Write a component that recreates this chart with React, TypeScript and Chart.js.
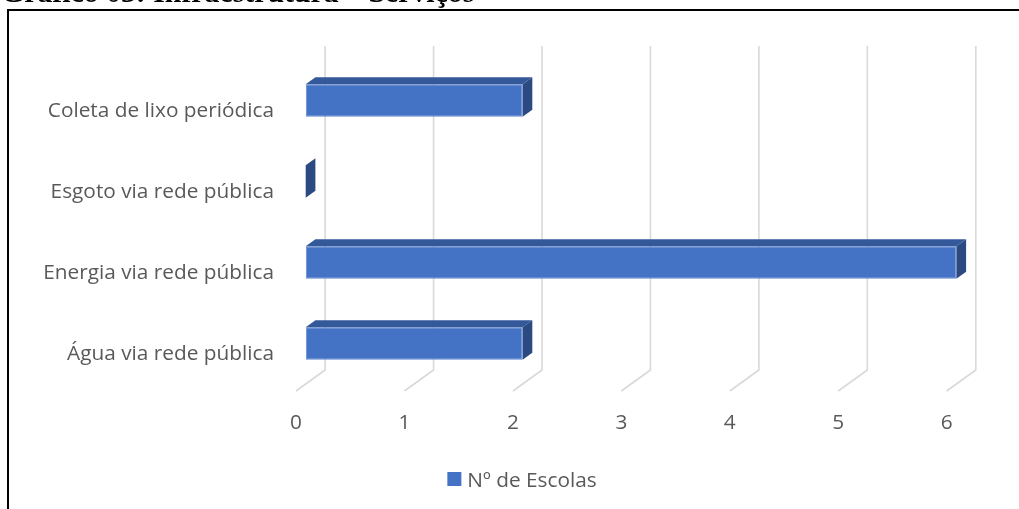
import React, { useEffect, useRef } from "react";
import { Chart, registerables } from "chart.js";

Chart.register(...registerables);

// ---- data ----
const categories = [
  "Coleta de lixo periódica",
  "Esgoto via rede pública",
  "Energia via rede pública",
  "Água via rede pública",
];
const escolas = [2, 0, 6, 2];
const xTicks = [0, 1, 2, 3, 4, 5, 6];
const seriesLabel = "Nº de Escolas";
const captionText = "Gráfico 03: Infraestrutura – Serviços";

// ---- styles ----
const FRONT = "#4472C4";
const FRONT_EDGE = "#5E88D2";
const TOP_FACE = "#34599B";
const SIDE_FACE = "#2B4A82";
const GRID = "#D9D9D9";
const TEXT = "#595959";
const FONT = "'Open Sans', 'Noto Sans', sans-serif";
const FONT_SIZE = 20.8;

// depth of a bar (front face -> back face); the floor is three bar depths deep
const DX = 9.7;
const DY = -7;

const threeD = {
  id: "threeD",
  beforeDatasetsDraw(chart: any) {
    const { ctx, chartArea, scales } = chart;
    const xs = scales.x;
    const backTop = chartArea.top + 2 * DY;
    const backBottom = chartArea.bottom + 2 * DY;
    ctx.save();
    ctx.strokeStyle = GRID;
    ctx.lineWidth = 1.6;
    xTicks.forEach((v) => {
      const px = xs.getPixelForValue(v);
      ctx.beginPath();
      ctx.moveTo(px + 2 * DX, backTop);
      ctx.lineTo(px + 2 * DX, backBottom);
      ctx.lineTo(px - DX, backBottom - 3 * DY);
      ctx.stroke();
    });
    ctx.restore();
  },
  afterDatasetsDraw(chart: any) {
    const { ctx } = chart;
    const meta = chart.getDatasetMeta(0);
    ctx.save();
    meta.data.forEach((bar: any) => {
      const { x, y, base, height } = bar.getProps(["x", "y", "base", "height"], true);
      const top = y - height / 2;
      const bottom = y + height / 2;
      // top face
      ctx.fillStyle = TOP_FACE;
      ctx.beginPath();
      ctx.moveTo(base, top);
      ctx.lineTo(x, top);
      ctx.lineTo(x + DX, top + DY);
      ctx.lineTo(base + DX, top + DY);
      ctx.closePath();
      ctx.fill();
      // right side face
      ctx.fillStyle = SIDE_FACE;
      ctx.beginPath();
      ctx.moveTo(x, top);
      ctx.lineTo(x + DX, top + DY);
      ctx.lineTo(x + DX, bottom + DY);
      ctx.lineTo(x, bottom);
      ctx.closePath();
      ctx.fill();
    });
    ctx.restore();
  },
  afterDraw(chart: any) {
    const { ctx, chartArea, scales } = chart;
    const xs = scales.x;
    const ys = scales.y;
    ctx.save();
    ctx.fillStyle = TEXT;
    ctx.font = `${FONT_SIZE}px ${FONT}`;
    ctx.textBaseline = "alphabetic";

    // category labels, aligned to the front of the floor
    ctx.textAlign = "right";
    categories.forEach((c, i) => {
      const cy = ys.getPixelForValue(i) - DY;
      ctx.fillText(c, chartArea.left - DX - 22, cy + 9);
    });

    // value axis labels under the floor's front edge
    ctx.textAlign = "center";
    const floorFront = chartArea.bottom + 2 * DY - 3 * DY;
    xTicks.forEach((v) => {
      ctx.fillText(String(v), xs.getPixelForValue(v) - DX, floorFront + 38);
    });

    // legend
    const ds = chart.data.datasets[0];
    const w = ctx.measureText(ds.label).width;
    const box = 14;
    const gap = 6;
    const left = 522 - (box + gap + w) / 2;
    ctx.fillStyle = ds.backgroundColor;
    ctx.fillRect(left, 472, box, box);
    ctx.fillStyle = TEXT;
    ctx.textAlign = "left";
    ctx.fillText(ds.label, left + box + gap, 487);
    ctx.restore();
  },
};

export default function App() {
  const ref = useRef<HTMLCanvasElement | null>(null);

  useEffect(() => {
    if (!ref.current) return;
    const chart = new Chart(ref.current, {
      type: "bar",
      data: {
        labels: categories,
        datasets: [
          {
            label: seriesLabel,
            data: escolas,
            backgroundColor: FRONT,
            borderColor: FRONT_EDGE,
            borderWidth: 1,
            borderSkipped: false,
            categoryPercentage: 1,
            barPercentage: 0.4,
          },
        ],
      },
      options: {
        indexAxis: "y",
        animation: false,
        responsive: false,
        devicePixelRatio: 1,
        layout: { padding: { left: 305.7, right: 62.6, top: 60, bottom: 125 } },
        scales: {
          x: { type: "linear", min: 0, max: 6, display: false },
          y: { type: "category", offset: true, display: false },
        },
        plugins: {
          legend: { display: false },
          title: { display: false },
          tooltip: { enabled: false },
        },
      },
      plugins: [threeD],
    });
    return () => chart.destroy();
  }, []);

  return (
    <div
      style={{
        position: "fixed",
        left: 0,
        top: 0,
        width: 1019,
        height: 509,
        overflow: "hidden",
        background: "#fff",
      }}
    >
      <canvas
        ref={ref}
        width={1019}
        height={509}
        style={{ position: "absolute", left: 0, top: 0, width: 1019, height: 509 }}
      />
      <div
        style={{
          position: "absolute",
          left: 7,
          top: 9,
          width: 1100,
          height: 600,
          border: "2px solid #000",
          boxSizing: "border-box",
          pointerEvents: "none",
        }}
      />
      <div
        style={{
          position: "absolute",
          left: 1,
          top: -23,
          whiteSpace: "nowrap",
          fontFamily: "'Liberation Serif', 'Times New Roman', serif",
          fontWeight: "bold",
          fontSize: 29.8,
          lineHeight: "30px",
          color: "#000",
        }}
      >
        {captionText}
      </div>
    </div>
  );
}
